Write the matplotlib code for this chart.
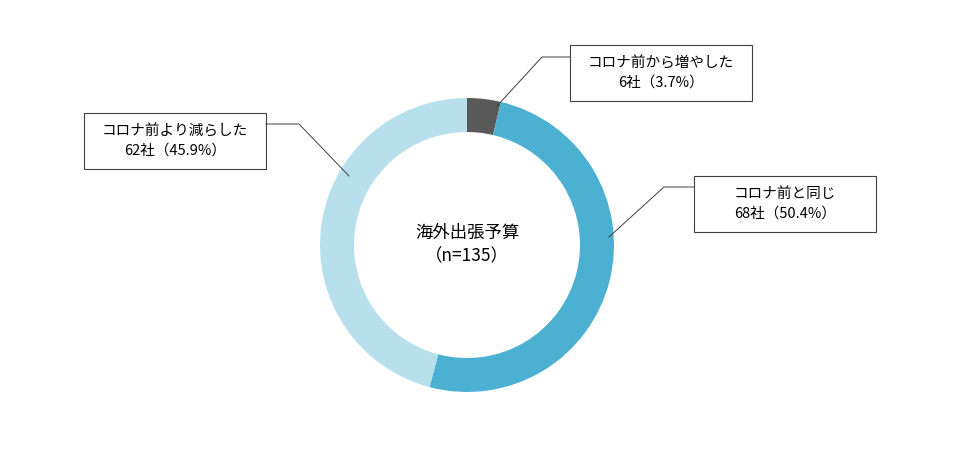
import matplotlib
matplotlib.use("Agg")
import matplotlib.pyplot as plt
from matplotlib.patches import Rectangle

plt.rcParams['font.family'] = ['Noto Sans CJK JP', 'DejaVu Sans']

categories = ["コロナ前から増やした", "コロナ前と同じ", "コロナ前より減らした"]
counts = [6, 68, 62]
percents = [3.7, 50.4, 45.9]
colors = ["#595959", "#4BB0D2", "#B8E0EC"]
title = "海外出張予算\n（n=135）"

H = 450
fig = plt.figure(figsize=(9.6, 4.5), dpi=100)
ax = fig.add_axes([0, 0, 1, 1])
ax.set_xlim(0, 960)
ax.set_ylim(0, H)
ax.set_aspect('equal')
ax.axis('off')

cx, cy = 467, H - 245
ax.pie(percents, colors=colors, startangle=90, counterclock=False,
       center=(cx, cy), radius=147, wedgeprops=dict(width=34, edgecolor='none'),
       frame=True)
ax.set_xlim(0, 960)
ax.set_ylim(0, H)
ax.axis('off')

ax.text(cx, cy, title, ha='center', va='center', fontsize=12.5, linespacing=1.4)

# boxes: (x0, y0_top, w, h), leader points (pixel coords)
boxes = [(570, 45, 182, 56), (694, 176, 182, 56), (84, 113, 182, 56)]
leaders = [[(497, 106), (542, 57), (570, 57)],
           [(609, 237), (664, 187), (694, 187)],
           [(349, 176), (299, 124), (266, 124)]]
for cat, n, p, (x0, y0, w, h), pts in zip(categories, counts, percents, boxes, leaders):
    ax.add_patch(Rectangle((x0, H - y0 - h), w, h, facecolor='white',
                           edgecolor='#404040', linewidth=0.8))
    ax.text(x0 + w / 2, H - y0 - h / 2, f"{cat}\n{n}社（{p}%）", ha='center',
            va='center', fontsize=10.5, linespacing=1.5)
    ax.plot([q[0] for q in pts], [H - q[1] for q in pts], color='#404040', lw=0.7)

fig.savefig("out.png", dpi=100)
